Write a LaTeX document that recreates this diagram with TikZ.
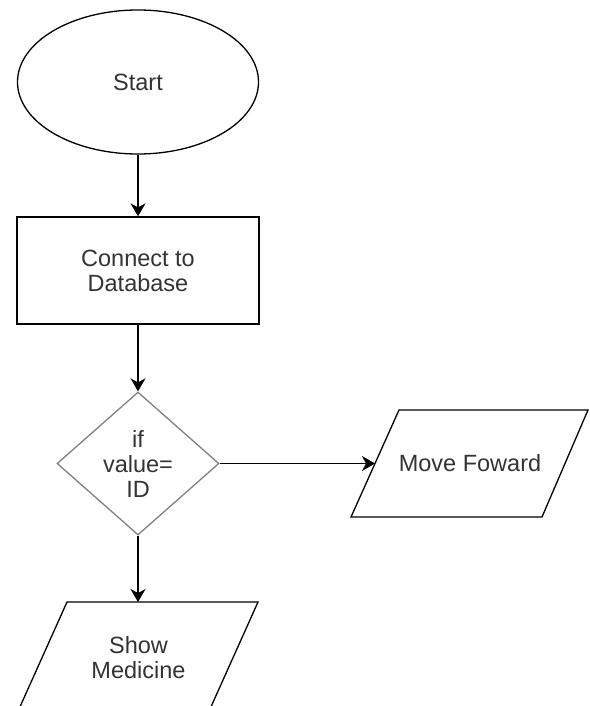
\documentclass[tikz,border=0pt]{standalone}
\usepackage{fontspec}
\setmainfont{Liberation Sans}
\usetikzlibrary{shapes.geometric,arrows.meta}
\definecolor{txtgray}{RGB}{51,51,51}
\definecolor{diagray}{RGB}{128,128,128}

\begin{document}
\begin{tikzpicture}[x=1pt,y=-1pt,
		box/.style={draw=black, line width=1.3pt, text=txtgray, align=center,
			font=\fontsize{23.5}{25}\selectfont, inner sep=0pt},
		label/.style={text=txtgray, align=center, font=\fontsize{23.5}{25}\selectfont, inner sep=0pt},
		edge/.style={draw=black, line width=1.3pt, line join=miter},
		flow/.style={draw=black, line width=1.3pt, -{Stealth[length=13pt,width=15pt,inset=4pt]}}]
			\useasboundingbox (0,0) rectangle (589,706);
			
			\node[box, ellipse, minimum width=241pt, minimum height=144pt] (start) at (138,82) {Start};
			\node[box, rectangle, minimum width=242pt, minimum height=107pt] (conn) at (138,270.5) {Connect to\\Database};
			\node[box, diamond, draw=diagray, aspect=1.13, minimum width=162pt, minimum height=143pt] (check) at (138,463.5) {if\\value=\\ID};
			
			% input/output boxes
			\draw[edge] (399,410) -- (588,410) -- (542,517) -- (351,517) -- cycle;
			\node[label] (move) at (470,463.5) {Move Foward};
			\coordinate (movein) at (375,463.5);
			
			\draw[edge] (67,602) -- (258,602) -- (210,709) -- (19,709) -- cycle;
			\node[label] (show) at (138.5,658) {Show\\Medicine};
			\coordinate (showin) at (138,602);
			
			\draw[flow] (start.south) -- (conn.north);
			\draw[flow] (conn.south) -- (check.north);
			\draw[flow] (check.east) -- (movein);
			\draw[flow] (check.south) -- (showin);
			
		\end{tikzpicture}
\end{document}
